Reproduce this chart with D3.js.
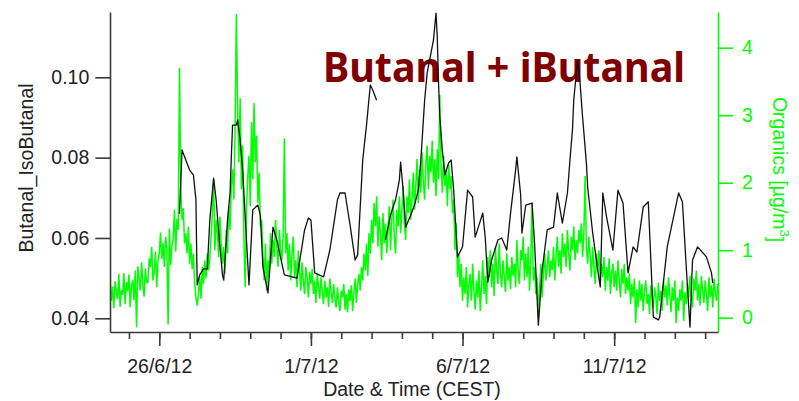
<!DOCTYPE html>
<html>
<head>
<meta charset="utf-8">
<script src="https://cdn.jsdelivr.net/npm/d3@7"></script>
<style>
  html, body { margin: 0; padding: 0; background: #fff; }
  svg { display: block; }
  text { font-family: "Liberation Sans", Arial, sans-serif; }
</style>
</head>
<body>
<svg id="chart" width="799" height="401"></svg>
<script>
// Series start (CEST clock shown as-is) and end of the time axis
const seriesStart = "2012-06-24T09:00:00Z";
const timeEnd = "2012-07-14T10:10:00Z";

// Organics mass concentration [µg/m3], one value per hour from seriesStart
const organics = [
  0.60, 0.25, 0.46, 0.14, 0.54, 0.38, 0.27, 0.65, 0.16, 0.41,
  0.34, 0.66, 0.20, 0.53, 0.39, 0.64, 0.15, 0.47, 0.56, 0.26,
  0.70, -0.14, 0.76, 0.58, 0.40, 0.82, 0.49, 0.31, 0.73, 0.52,
  0.52, 0.88, 0.75, 1.05, 0.55, 0.68, 0.98, 0.45, 0.85, 0.95,
  1.26, 0.87, 1.11, 0.75, 1.20, 1.02, -0.10, 1.32, 0.78, 1.05,
  1.18, 1.60, 0.98, 1.46, 1.30, 3.70, 1.95, 1.45, 1.62, 1.10,
  1.25, 0.95, 1.35, 0.80, 1.10, 0.72, 0.95, 0.50, 0.30, 0.18,
  0.35, 0.62, 0.28, 0.75, 0.50, 0.85, 0.58, 0.95, 0.70, 0.88,
  1.20, 1.55, 2.05, 1.00, 1.45, 1.25, 0.90, 1.50, 1.10, 0.80,
  1.05, 0.65, 1.30, 0.95, 1.65, 1.30, 1.95, 2.20, 1.75, 2.80,
  4.50, 3.10, 2.30, 3.25, 1.90, 2.55, 1.15, 0.45, 1.60, 2.10,
  2.40, 1.65, 2.90, 2.05, 3.18, 2.30, 2.70, 1.70, 2.15, 1.35,
  1.45, 0.95, 0.55, 1.10, 0.40, 0.85, 0.60, 1.25, 0.80, 1.15,
  0.90, 1.45, 1.05, 0.75, 1.30, 1.00, 0.85, 1.20, 2.66, 0.95,
  1.25, 0.70, 1.10, 0.55, 0.95, 1.20, 0.60, 0.85, 0.45, 1.00,
  0.70, 0.40, 0.82, 0.55, 0.35, 0.75, 0.60, 0.30, 0.68, 0.50,
  0.72, 0.35, 0.55, 0.22, 0.65, 0.45, 0.28, 0.60, 0.38, 0.20,
  0.55, 0.30, 0.45, 0.16, 0.58, 0.38, 0.22, 0.50, 0.28, 0.15,
  0.45, 0.22, 0.10, 0.40, 0.30, 0.50, 0.12, 0.35, 0.08, 0.42,
  0.25, 0.48, 0.10, 0.38, 0.58, 0.22, 0.50, 0.65, 0.40, 0.75,
  0.55, 0.95, 0.70, 1.10, 0.62, 1.25, 0.95, 1.45, 1.10, 1.70,
  1.35, 1.80, 1.05, 1.50, 1.25, 0.85, 1.55, 1.10, 1.40, 0.95,
  1.30, 1.65, 1.00, 1.45, 1.75, 1.20, 0.95, 1.60, 1.35, 1.80,
  1.25, 1.60, 1.95, 1.40, 1.15, 1.80, 1.55, 2.05, 1.45, 1.75,
  2.15, 1.60, 1.95, 2.35, 1.70, 2.20, 1.85, 2.45, 2.00, 1.75,
  2.30, 2.55, 1.90, 2.40, 2.15, 2.62, 2.00, 2.35, 1.80, 2.50,
  2.05, 3.30, 2.25, 1.85, 2.40, 1.95, 2.20, 1.65, 2.30, 1.90,
  2.10, 1.55, 1.75, 1.00, 1.40, 0.60, 0.95, 0.45, 0.80, 0.25,
  0.60, 0.35, 0.75, 0.15, 0.50, 0.65, 0.25, 0.80, 0.40, 0.12,
  0.55, 0.30, 0.70, 0.10, 0.45, 0.85, 0.35, 0.62, 0.20, 0.90,
  0.60, 1.00, 0.45, 0.80, 0.32, 1.05, 0.70, 0.50, 1.10, 0.65,
  0.45, 0.85, 0.60, 0.38, 0.95, 0.55, 0.75, 0.42, 0.90, 0.62,
  0.80, 0.45, 1.15, 0.70, 0.50, 1.00, 0.85, 1.20, 0.55, 0.95,
  0.60, 1.05, 0.40, 0.85, 1.70, 0.55, 0.75, 0.35, 0.60, 0.00,
  0.45, 0.80, 0.30, 0.65, 0.95, 0.55, 0.75, 1.00, 0.60, 0.85,
  0.70, 1.05, 0.55, 0.90, 1.20, 0.75, 1.00, 0.65, 1.25, 0.90,
  1.10, 0.75, 1.30, 0.95, 0.70, 1.20, 1.00, 1.35, 0.85, 1.15,
  0.95, 1.30, 1.10, 1.40, 0.90, 1.25, 2.10, 1.05, 0.80, 1.20,
  0.90, 0.60, 1.05, 0.75, 0.50, 0.95, 0.70, 1.00, 0.55, 0.80,
  0.60, 0.90, 0.40, 0.75, 0.55, 0.88, 0.35, 0.65, 0.80, 0.45,
  0.70, 0.40, 0.85, 0.55, 0.30, 0.72, 0.50, 0.80, 0.35, 0.60,
  0.40, 0.65, 0.20, 0.50, 0.30, 0.58, -0.08, 0.42, 0.15, 0.55,
  0.25, 0.50, 0.10, 0.40, 0.55, 0.20, 0.35, 0.05, 0.48, 0.28,
  0.15, 0.45, 0.30, 0.05, 0.52, 0.25, 0.40, 0.10, 0.55, 0.30,
  0.48, 0.18, 0.60, 0.35, 0.08, 0.45, 0.25, 0.55, -0.08, 0.30,
  0.10, 0.42, 0.25, 0.55, -0.05, 0.38, 0.20, 0.50, 0.30, 0.62,
  0.35, 0.15, 0.58, 0.40, 0.70, 0.25, 0.50, 0.18, 0.62, 0.40,
  0.22, 0.55, 0.35, 0.10, 0.60, 0.30, 0.48, 0.15, 0.58, 0.38, 0.25, 0.50
];

// Butanal + isobutanal signal: hours after seriesStart and values (null = no data)
const butanalHours = [
  55, 57, 60, 63, 66, 68, 69, 71, 74, 77, 79, 82, 84, 86, 89, 90, 93, 95, 96, 97,
  100, 101, 103, 105, 108, 110, 113, 117, 119, 121, 125, 129, 132, 138, 148, 154, 157, 159, 162, 169,
  174, 180, 182, 186, 190, 194, 196, 200, 203, 206, 208, 211, 214, 218, 222, 226, 229, 230, 232, 234,
  238, 241, 244, 246, 249, 251, 256, 258, 259, 260, 261, 263, 265, 268, 270, 272, 275, 279, 283, 287,
  289, 292, 295, 297, 299, 302, 307, 310, 314, 317, 321, 322, 325, 326, 329, 334, 336, 339, 342, 346,
  351, 354, 358, 362, 364, 366, 367, 370, 372, 374, 377, 378, 382, 386, 388, 390, 393, 398, 402, 406,
  410, 414, 417, 422, 426, 430, 434, 435, 441, 450, 453, 457, 459, 461, 465, 472, 476, 477
];
const butanalValues = [
  0.0660, 0.0819, 0.0794, 0.0769, 0.0757, 0.0695, 0.0483, 0.0508, 0.0523, 0.0523, 0.0645, 0.0749, 0.0695, 0.0615, 0.0508, 0.0495, 0.0645, 0.0712, 0.0800, 0.0881,
  0.0881, 0.0894, 0.0844, 0.0769, 0.0595, 0.0483, 0.0670, 0.0682, 0.0657, 0.0528, 0.0463, 0.0627, 0.0595, 0.0508, 0.0500, 0.0620, 0.0650, 0.0645, 0.0513, 0.0503,
  0.0570, 0.0695, 0.0712, 0.0712, 0.0632, 0.0545, 0.0558, 0.0794, 0.0881, 0.0981, 0.0968, 0.0943, null, 0.0595, 0.0657, 0.0695, 0.0744, 0.0789, 0.0719, 0.0627,
  0.0657, 0.0682, 0.0719, 0.0794, 0.0943, 0.1011, 0.1093, 0.1160, 0.1100, 0.0986, 0.0901, 0.0819, 0.0757, 0.0787, 0.0794, 0.0719, 0.0553, 0.0578, 0.0719, 0.0702,
  0.0602, 0.0632, 0.0662, 0.0600, 0.0490, 0.0545, 0.0595, 0.0600, 0.0570, 0.0662, 0.0769, 0.0802, 0.0707, 0.0612, 0.0682, 0.0687, 0.0587, 0.0383, 0.0520, 0.0620,
  0.0627, 0.0712, 0.0637, 0.0712, 0.0794, 0.0869, 0.0943, 0.1043, 0.0986, 0.0901, 0.0787, 0.0727, 0.0612, 0.0520, 0.0478, 0.0712, 0.0652, 0.0570, 0.0719, 0.0687,
  0.0513, 0.0578, 0.0565, 0.0677, 0.0690, 0.0403, 0.0396, 0.0403, 0.0578, 0.0712, 0.0690, 0.0478, 0.0378, 0.0545, 0.0578, 0.0553, 0.0513, 0.0488
];

// Axis ticks and labels
const butanalTicks = [0.04, 0.06, 0.08, 0.10];
const organicsTicks = [0, 1, 2, 3, 4];
const dateLabelTicks = ["2012-06-26", "2012-07-01", "2012-07-06", "2012-07-11"];
const butanalDomain = [0.03659, 0.11626];
const organicsDomain = [-0.212, 4.529];

const titleText = "Butanal + iButanal";
const xTitle = "Date & Time (CEST)";
const yTitle = "Butanal_IsoButanal";

const svg = d3.select("#chart");
const W = 799, H = 401;
const margin = { left: 110, right: 81, top: 12, bottom: 69 };
const plotW = W - margin.left - margin.right;
const plotH = H - margin.top - margin.bottom;
const GREEN = "#00ff00";
const INK = "#222";
const AXIS = "#3a3a3a";

const t0 = new Date(seriesStart);
const hourToDate = h => new Date(t0.getTime() + h * 3600e3);

const x = d3.scaleUtc()
  .domain([t0, new Date(timeEnd)])
  .range([margin.left, margin.left + plotW]);
const yL = d3.scaleLinear().domain(butanalDomain).range([margin.top + plotH, margin.top]);
const yR = d3.scaleLinear().domain(organicsDomain).range([margin.top + plotH, margin.top]);

svg.append("defs").append("clipPath").attr("id", "plotClip")
  .append("rect")
  .attr("x", margin.left).attr("y", margin.top)
  .attr("width", plotW).attr("height", plotH);

// Title sits beneath the traces
svg.append("text")
  .attr("x", 323).attr("y", 81.5)
  .attr("textLength", 362).attr("lengthAdjust", "spacingAndGlyphs")
  .style("font-family", "'Noto Sans', 'DejaVu Sans', sans-serif")
  .style("font-weight", "bold")
  .style("font-size", "41px")
  .attr("fill", "#800000")
  .text(titleText);

const plot = svg.append("g").attr("clip-path", "url(#plotClip)");

// Organics trace (right axis)
const orgPoints = organics.map((v, i) => ({ t: hourToDate(i), v }));
plot.append("path")
  .datum(orgPoints)
  .attr("fill", "none")
  .attr("stroke", GREEN)
  .attr("stroke-width", 1.5)
  .attr("d", d3.line().x(d => x(d.t)).y(d => yR(d.v)));

// Butanal trace (left axis)
const butPoints = butanalHours.map((h, i) => ({ t: hourToDate(h), v: butanalValues[i] }));
plot.append("path")
  .datum(butPoints)
  .attr("fill", "none")
  .attr("stroke", "#111")
  .attr("stroke-width", 1.3)
  .attr("stroke-linejoin", "round")
  .attr("d", d3.line().defined(d => d.v !== null).x(d => x(d.t)).y(d => yL(d.v)));

// Left axis
const gL = svg.append("g")
  .attr("transform", `translate(${margin.left},0)`)
  .call(d3.axisLeft(yL).tickValues(butanalTicks).tickFormat(d3.format(".2f"))
    .tickSize(14.7).tickPadding(6).tickSizeOuter(0));
gL.select(".domain").attr("stroke", AXIS).attr("stroke-width", 1.6);
gL.selectAll(".tick line").attr("stroke", AXIS).attr("stroke-width", 1.6);
gL.selectAll(".tick text").attr("fill", INK).style("font-size", "19.5px")
  .style("font-family", "'Liberation Sans', Arial, sans-serif");

// Right axis
const gR = svg.append("g")
  .attr("transform", `translate(${margin.left + plotW},0)`)
  .call(d3.axisRight(yR).tickValues(organicsTicks).tickFormat(d3.format("d"))
    .tickSize(15).tickPadding(9).tickSizeOuter(0));
gR.select(".domain").attr("stroke", GREEN).attr("stroke-width", 1.6);
gR.selectAll(".tick line").attr("stroke", GREEN).attr("stroke-width", 1.6);
gR.selectAll(".tick text").attr("fill", GREEN).style("font-size", "19.5px")
  .style("font-family", "'Liberation Sans', Arial, sans-serif");

// Bottom axis: daily minor ticks, labelled major ticks every five days
const yBase = margin.top + plotH;
const gBm = svg.append("g")
  .attr("transform", `translate(0,${yBase})`)
  .call(d3.axisBottom(x).ticks(d3.utcDay.every(1)).tickFormat("").tickSize(7).tickSizeOuter(0));
gBm.select(".domain").attr("stroke", AXIS).attr("stroke-width", 1.6);
gBm.selectAll(".tick line").attr("stroke", AXIS).attr("stroke-width", 1.6);

const gB = svg.append("g")
  .attr("transform", `translate(0,${yBase})`)
  .call(d3.axisBottom(x)
    .tickValues(dateLabelTicks.map(s => new Date(s + "T00:00:00Z")))
    .tickFormat(d3.utcFormat("%-d/%-m/%y"))
    .tickSize(14).tickPadding(13).tickSizeOuter(0));
gB.select(".domain").remove();
gB.selectAll(".tick line").attr("stroke", AXIS).attr("stroke-width", 1.6);
gB.selectAll(".tick text").attr("fill", INK).style("font-size", "19.5px")
  .style("font-family", "'Liberation Sans', Arial, sans-serif");

// Axis titles
svg.append("text")
  .attr("x", 412).attr("y", 396)
  .attr("text-anchor", "middle")
  .attr("fill", INK)
  .style("font-size", "19.5px")
  .text(xTitle);

svg.append("text")
  .attr("transform", "translate(33.3,168) rotate(-90)")
  .attr("text-anchor", "middle")
  .attr("fill", INK)
  .style("font-size", "19.5px")
  .text(yTitle);

const rt = svg.append("text")
  .attr("transform", "translate(772.7,169.5) rotate(90)")
  .attr("text-anchor", "middle")
  .attr("fill", GREEN)
  .style("font-size", "19.5px");
rt.append("tspan").text("Organics [µg/m");
rt.append("tspan").attr("dy", "-0.55em").style("font-size", "13px").text("3");
rt.append("tspan").attr("dy", "0.55em").text("]");
</script>
</body>
</html>
